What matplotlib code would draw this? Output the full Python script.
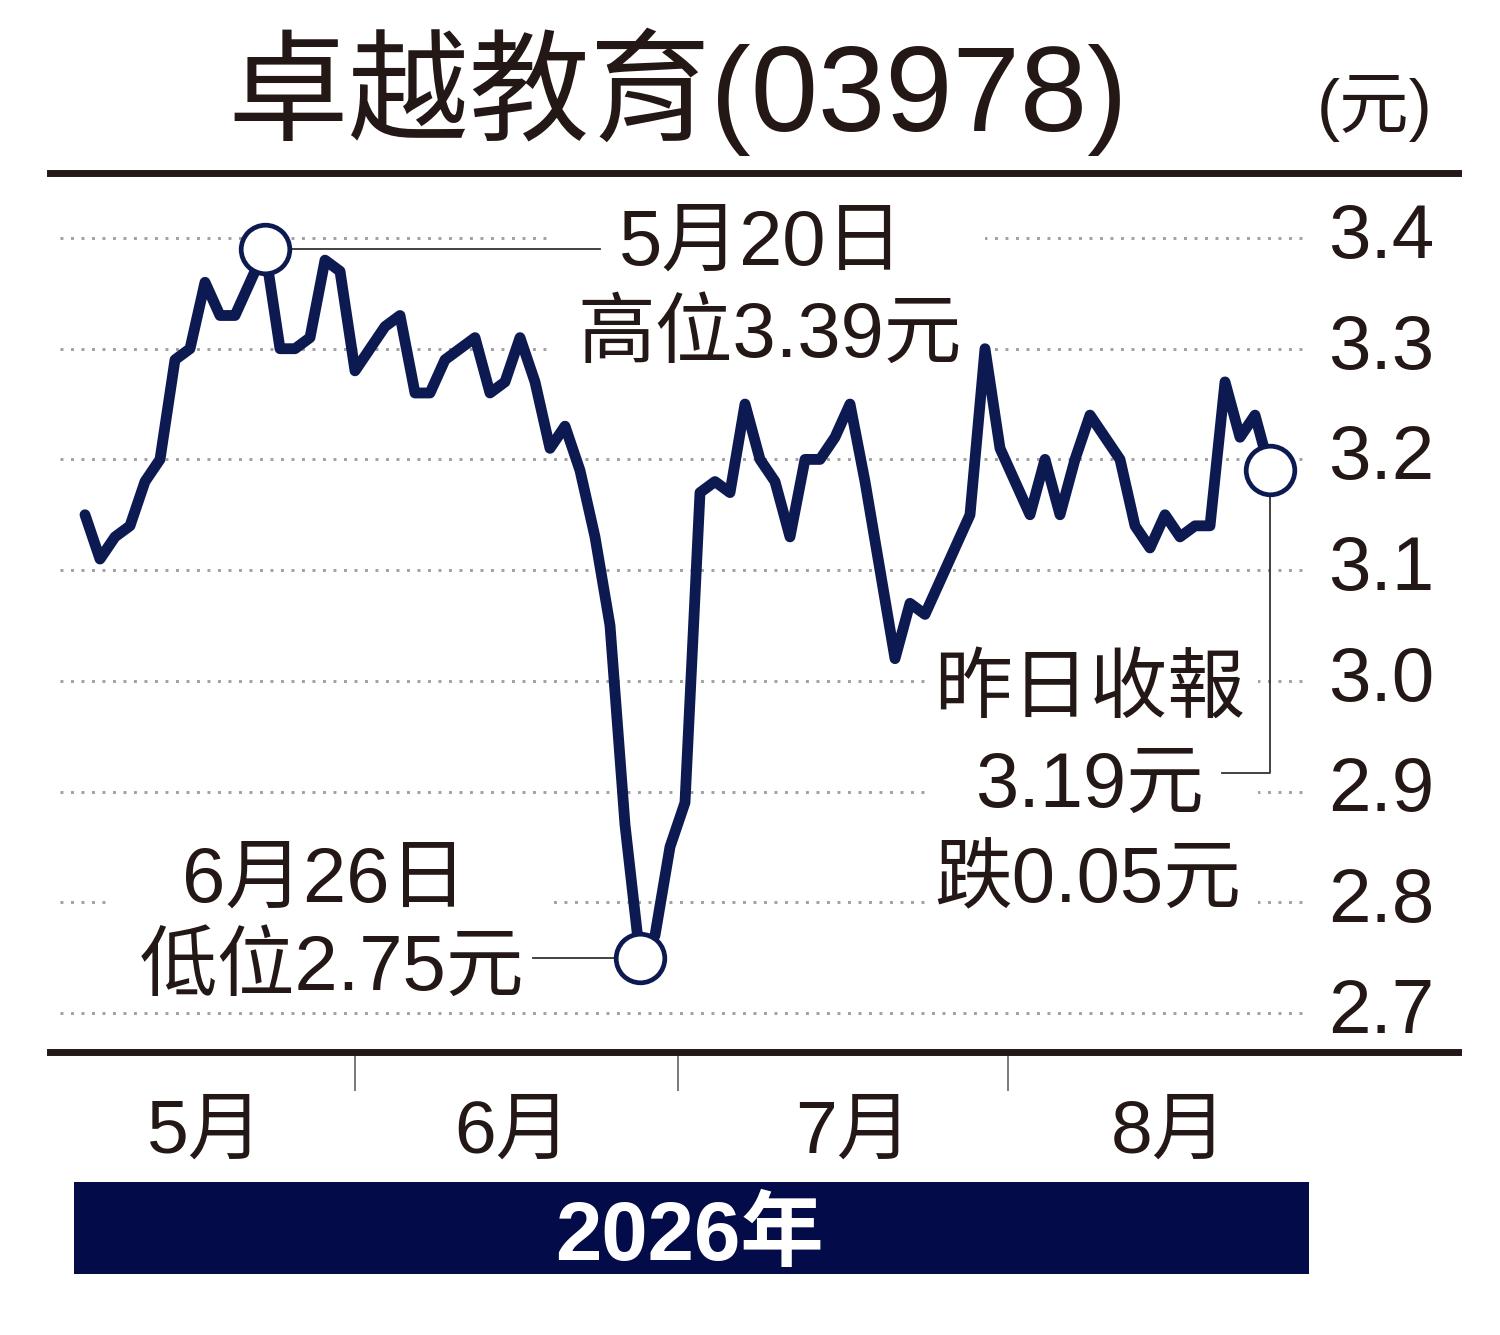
import matplotlib
matplotlib.use("Agg")
import matplotlib.pyplot as plt
from matplotlib.patches import Rectangle
from matplotlib.transforms import offset_copy

plt.rcParams['font.family'] = ['Liberation Sans', 'Noto Sans CJK TC', 'DejaVu Sans']

# daily closes, trading days from early May to late Aug 2026
PRICES = [3.15, 3.11, 3.13, 3.14, 3.18, 3.20, 3.29, 3.30, 3.36, 3.33,
          3.33, 3.36, 3.39, 3.30, 3.30, 3.31, 3.38, 3.37, 3.28, 3.30,
          3.32, 3.33, 3.26, 3.26, 3.29, 3.30, 3.31, 3.26, 3.27, 3.31,
          3.27, 3.21, 3.23, 3.19, 3.13, 3.05, 2.87, 2.75, 2.77, 2.85,
          2.89, 3.17, 3.18, 3.17, 3.25, 3.20, 3.18, 3.13, 3.20, 3.20,
          3.22, 3.25, 3.18, 3.10, 3.02, 3.07, 3.06, 3.09, 3.12, 3.15,
          3.30, 3.21, 3.18, 3.15, 3.20, 3.15, 3.20, 3.24, 3.22, 3.20,
          3.14, 3.12, 3.15, 3.13, 3.14, 3.14, 3.27, 3.22, 3.24, 3.19]
HIGH_IDX, LOW_IDX = 12, 37
Y_TICKS = [2.7, 2.8, 2.9, 3.0, 3.1, 3.2, 3.3, 3.4]
MONTHS = ["5月", "6月", "7月", "8月"]
MONTH_POS = [8.0, 28.5, 51.2, 72.3]
MONTH_SEP = [18.0, 39.5, 61.5]

NAVY = "#0d1a52"
INK = "#231815"
GRID = "#a0a0a0"

# pixel <-> data helpers (figure is 1500x1335 px)
W, H = 1500, 1335
def dx(px): return (px - 85) / 15.0
def dy(py): return 3.4 - (py - 238) / 1107.0
def fx(px): return px / W
def fy(py): return 1 - py / H

fig = plt.figure(figsize=(15, 13.35), dpi=100, facecolor="white")
ax = fig.add_axes([fx(50), fy(1052), fx(1458) - fx(50), (1052 - 173) / H])
ax.set_xlim(dx(50), dx(1458))
ax.set_ylim(dy(1052), dy(173))
for s in ("left", "right"):
    ax.spines[s].set_visible(False)
for s in ("top", "bottom"):
    ax.spines[s].set_linewidth(5)
    ax.spines[s].set_color(INK)
ax.set_yticks([])
ax.set_xticks(MONTH_SEP)
ax.tick_params(axis="x", direction="out", length=28, width=1.1, color="#555555",
               labelbottom=False)

# dotted grid
ax.hlines(Y_TICKS, dx(60), dx(1302), colors=GRID, linewidth=2.1,
          linestyles=(0, (1, 2.6)), zorder=1)

# white boxes behind the notes
for x0, y0, x1, y1 in [(550, 195, 985, 370), (112, 830, 554, 1000), (925, 640, 1258, 910)]:
    ax.add_patch(Rectangle((dx(x0), dy(y1)), dx(x1) - dx(x0), dy(y0) - dy(y1),
                           facecolor="white", edgecolor="none", zorder=2))

xs = list(range(len(PRICES)))
ax.plot(xs, PRICES, color=NAVY, lw=7.8, solid_joinstyle="round", solid_capstyle="round", zorder=4)

last = len(PRICES) - 1
# leader lines
ax.plot([HIGH_IDX, dx(600)], [PRICES[HIGH_IDX]] * 2, color="#333333", lw=1.3, zorder=3)
ax.plot([LOW_IDX, dx(533)], [PRICES[LOW_IDX]] * 2, color="#333333", lw=1.3, zorder=3)
ax.plot([last, last, dx(1222)], [PRICES[last], dy(773), dy(773)], color="#333333", lw=1.3, zorder=3)

for i in (HIGH_IDX, LOW_IDX, last):
    ax.plot(i, PRICES[i], "o", ms=35, mfc="white", mec=NAVY, mew=3.4, zorder=5)

# y labels on the right
ylab_tr = offset_copy(ax.transData, fig=fig, y=-20, units="dots")
for v in Y_TICKS:
    ax.text(dx(1328), v, f"{v:.1f}", transform=ylab_tr, fontsize=55, color=INK,
            ha="left", va="baseline", zorder=6)

# notes
notes = [("5月20日", 762, 265), ("高位3.39元", 770, 357),
         ("6月26日", 325, 902), ("低位2.75元", 332, 990),
         ("昨日收報", 1090, 712), ("3.19元", 1090, 807), ("跌0.05元", 1088, 902)]
for t, px, py in notes:
    ax.text(dx(px), dy(py), t, fontsize=56, color=INK, ha="center", va="baseline", zorder=6)

# month labels
for m, p in zip(MONTHS, MONTH_POS):
    ax.text(p, dy(1153), m, fontsize=54, color=INK, ha="center", va="baseline", clip_on=False)

# title
fig.text(fx(678), fy(131), "卓越教育(03978)", fontsize=87, color=INK, ha="center", va="baseline")
fig.text(fx(1375), fy(128), "(元)", fontsize=50, color=INK, ha="center", va="baseline")

# year band
fig.add_artist(Rectangle((fx(74), fy(1274)), fx(1309) - fx(74), (1274 - 1182) / H,
                         transform=fig.transFigure, facecolor="#030c48", edgecolor="none", zorder=1))
fig.text(fx(689), fy(1260), "2026年", fontsize=60, fontweight="bold", color="white",
         ha="center", va="baseline", zorder=3)

fig.savefig("out.png", dpi=100, facecolor="white")
